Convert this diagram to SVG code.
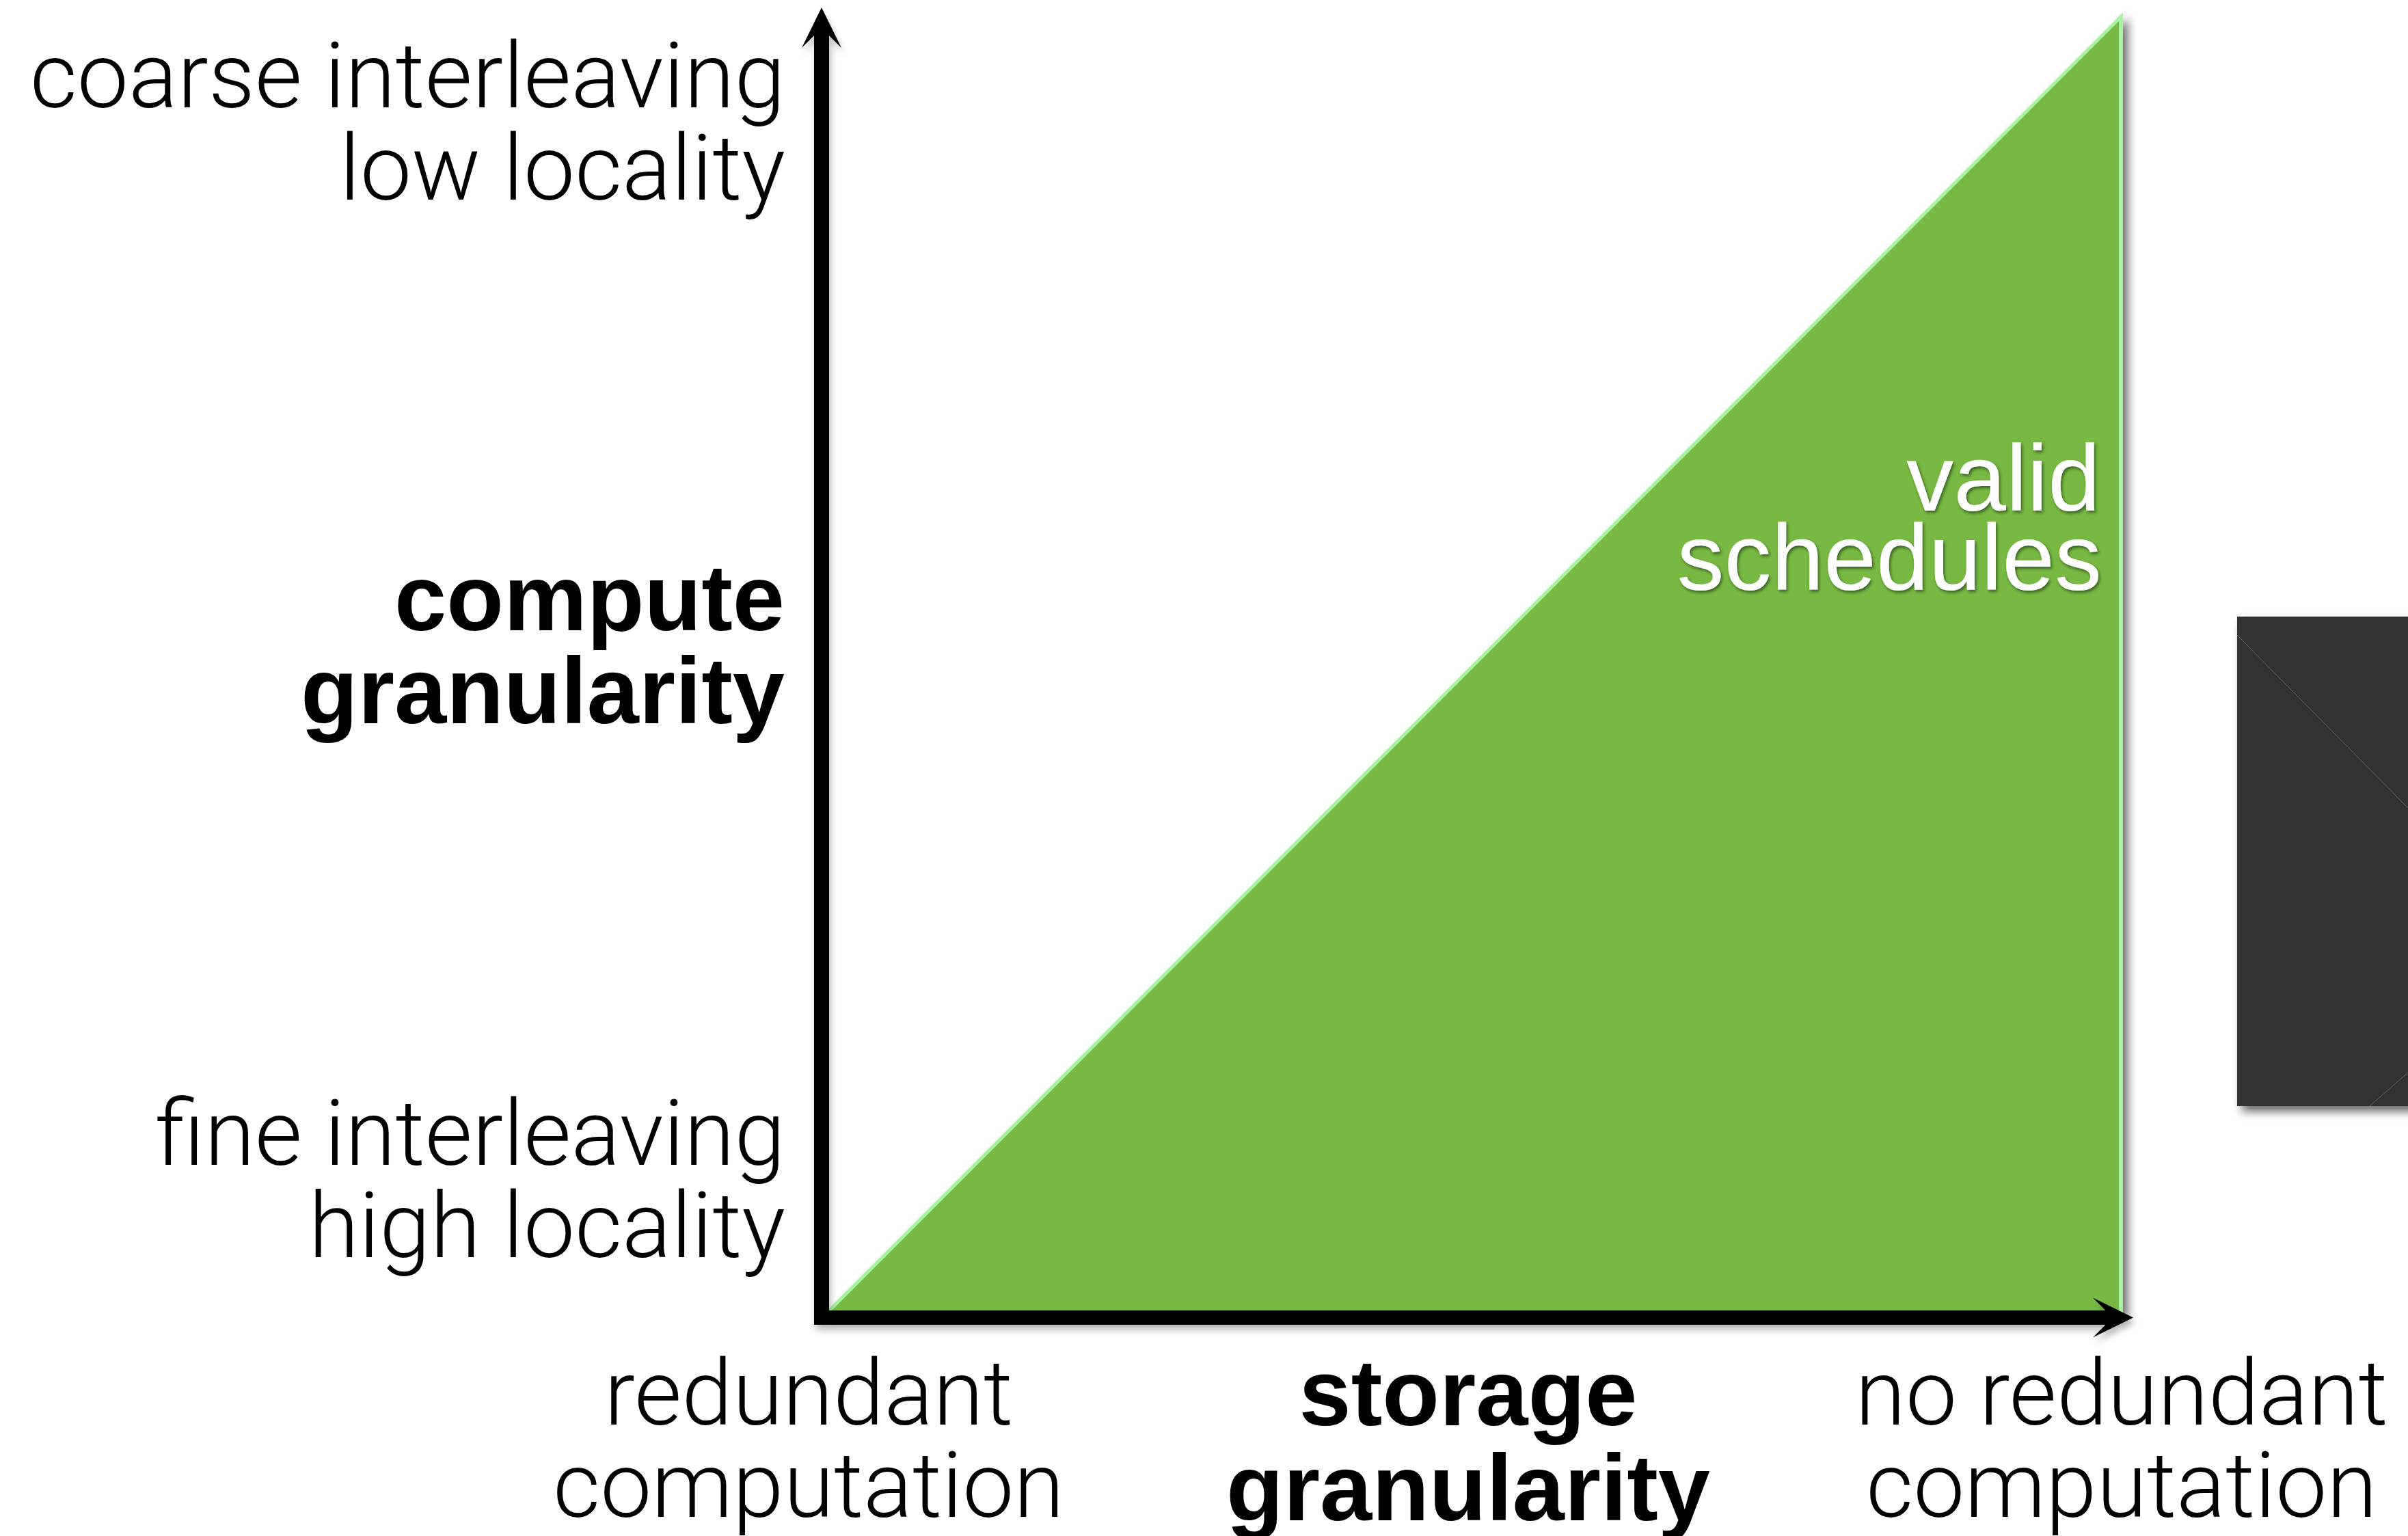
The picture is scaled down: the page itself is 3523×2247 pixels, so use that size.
<svg xmlns="http://www.w3.org/2000/svg" width="3523" height="2247" viewBox="0 0 3523 2247">
<style>
.lt{font-family:Roboto,"Liberation Sans",Arial,sans-serif;font-weight:300;font-size:134px;fill:#000}
.bd{font-family:"Liberation Sans",Arial,sans-serif;font-weight:bold;font-size:137px;fill:#000}
.wt{font-family:"Liberation Sans",Arial,sans-serif;font-weight:normal;font-size:138px;fill:#fff}
.axis{stroke:#000;fill:none;stroke-linecap:butt}
</style>
<defs>
<filter id="shadow" x="-10%" y="-10%" width="130%" height="130%">
<feDropShadow dx="7" dy="8" stdDeviation="7" flood-color="#000" flood-opacity="0.6"/>
</filter>
<filter id="ashadow" x="-5%" y="-5%" width="115%" height="115%">
<feDropShadow dx="3" dy="8" stdDeviation="5" flood-color="#000" flood-opacity="0.25"/>
</filter>
<filter id="tshadow" x="-5%" y="-10%" width="115%" height="130%">
<feDropShadow dx="2" dy="3" stdDeviation="2" flood-color="#1f3a0a" flood-opacity="0.7"/>
</filter>
<marker id="arrow" markerUnits="userSpaceOnUse" markerWidth="60" markerHeight="60" refX="28" refY="29" orient="auto" overflow="visible">
<path d="M0,0 L59,29 L0,58 L18,40 L18,18 Z" fill="#000"/>
</marker>
</defs>
<rect width="3523" height="2247" fill="#fff"/>

<g id="dark-panel" filter="url(#shadow)">
<rect x="3273" y="902" width="260" height="716" fill="#313232"/>
<line x1="3273" y1="929" x2="3523" y2="1182" stroke="#8a8a8a" stroke-width="1" opacity="0.6"/>
<line x1="3467" y1="1618" x2="3523" y2="1569" stroke="#8a8a8a" stroke-width="1" opacity="0.6"/>
</g>

<g id="valid-region">
<g filter="url(#shadow)">
<polygon points="1206,1921 3106,18 3106,1921" fill="#a6f3a0"/>
</g>
<polygon points="1213,1921 3100,31 3100,1921" fill="#78b943"/>
<g filter="url(#tshadow)">
<text class="wt" x="3073" y="747" text-anchor="end">valid</text>
<text class="wt" x="3075" y="863" text-anchor="end">schedules</text>
</g>
</g>

<g id="connectors" filter="url(#ashadow)">
<line class="axis" x1="1202" y1="1938" x2="1202" y2="42" stroke-width="22" marker-end="url(#arrow)"/>
<line class="axis" x1="1191" y1="1927.5" x2="3090" y2="1927.5" stroke-width="21" marker-end="url(#arrow)"/>
</g>

<g id="y-top-label">
<text class="lt" x="1149" y="157" text-anchor="end">coarse interleaving</text>
<text class="lt" x="1149" y="292" text-anchor="end">low locality</text>
</g>
<g id="y-axis-title">
<text class="bd" x="1148" y="922" text-anchor="end">compute</text>
<text class="bd" x="1148" y="1058" text-anchor="end">granularity</text>
</g>
<g id="y-bottom-label">
<text class="lt" x="1149" y="1704" text-anchor="end">fine interleaving</text>
<text class="lt" x="1149" y="1839" text-anchor="end">high locality</text>
</g>
<g id="x-left-label">
<text class="lt" x="1183" y="2084" text-anchor="middle">redundant</text>
<text class="lt" x="1183" y="2219" text-anchor="middle">computation</text>
</g>
<g id="x-axis-title">
<text class="bd" x="2148" y="2085" text-anchor="middle">storage</text>
<text class="bd" x="2148" y="2224" text-anchor="middle">granularity</text>
</g>
<g id="x-right-label">
<text class="lt" x="3104" y="2084" text-anchor="middle">no redundant</text>
<text class="lt" x="3104" y="2219" text-anchor="middle">computation</text>
</g>
</svg>
